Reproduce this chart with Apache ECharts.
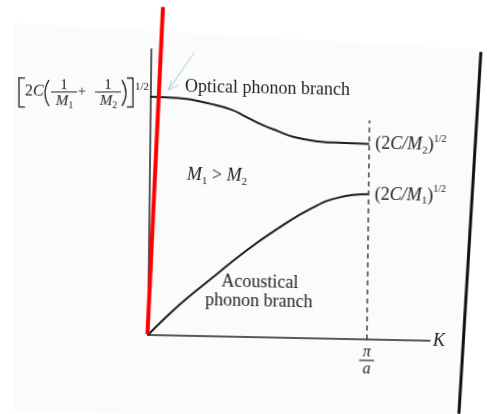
<!DOCTYPE html>
<html>
<head>
<meta charset="utf-8">
<script src="https://cdn.jsdelivr.net/npm/echarts@6/dist/echarts.min.js"></script>
<style>
  html, body { margin: 0; padding: 0; background: #fff; overflow: hidden; }
  /* the printed figure sits slightly skewed on the scanned page */
  #chart {
    width: 487px; height: 414px;
    transform-origin: 148px 335px;
    transform: matrix(1, 0.0205, -0.012, 1, 0, 0);
  }
</style>
</head>
<body>
<div id="chart"></div>
<script>
// Diatomic linear lattice, M1 > M2.
// K in units of π/a, ω in units of [2C(1/M1 + 1/M2)]^1/2.
const opticalK  = [0, 0.125, 0.278, 0.370, 0.431, 0.508, 0.584, 0.660, 0.767, 0.889, 1];
const opticalW  = [1.000, 0.997, 0.974, 0.952, 0.926, 0.892, 0.866, 0.842, 0.827, 0.822, 0.820];
const acousticK = [0, 0.077, 0.167, 0.288, 0.438, 0.589, 0.741, 0.861, 1];
const acousticW = [0, 0.072, 0.150, 0.243, 0.358, 0.459, 0.546, 0.592, 0.609];
const zoneEdgeK = 1;              // K = π/a
const zoneEdgeTop = 0.92;         // height of the dashed zone-edge line
const zoneEdgeLabel = ['π', 'a']; // numerator, denominator
const opticalTopW = 1;            // ω at K = 0 on the optical branch

const SERIF = '"Liberation Serif", "DejaVu Serif", serif';
const INK = '#242424';

// skew of the container (see CSS); converts page pixels back to chart pixels
const OX = 148, OY = 335, SA = 0.0205, SC = -0.012;
function toLocal(X, Y) {
  const dx = X - OX, dy = Y - OY, det = 1 - SA * SC;
  return [OX + (dx - SC * dy) / det, OY + (-SA * dx + dy) / det];
}

const chart = echarts.init(document.getElementById('chart'));

// text styles used by every label (rich text keeps the serif face)
const rich = {
  t:  { fontFamily: SERIF, fontSize: 18, color: INK, lineHeight: 22 },
  i:  { fontFamily: SERIF, fontSize: 18, color: INK, lineHeight: 22, fontStyle: 'italic' },
  s:  { fontFamily: SERIF, fontSize: 11, color: INK, lineHeight: 11, verticalAlign: 'bottom' },
  p:  { fontFamily: SERIF, fontSize: 10, color: INK, lineHeight: 15, verticalAlign: 'top' },
  r16: { fontFamily: SERIF, fontSize: 16, color: INK },
  i16: { fontFamily: SERIF, fontSize: 16, color: INK, fontStyle: 'italic' },
  r15: { fontFamily: SERIF, fontSize: 15, color: INK },
  i15: { fontFamily: SERIF, fontSize: 15, color: INK, fontStyle: 'italic', lineHeight: 18 },
  s10: { fontFamily: SERIF, fontSize: 10, color: INK, lineHeight: 12, verticalAlign: 'bottom' },
  r11: { fontFamily: SERIF, fontSize: 11, color: INK }
};

function text(X, Y, str, align) {
  const p = toLocal(X, Y);
  return {
    type: 'text', x: p[0], y: p[1], z: 50, silent: true,
    style: {
      text: str, rich: rich, fill: INK, fontFamily: SERIF, fontSize: 18,
      align: align || 'left', verticalAlign: 'middle'
    }
  };
}
function seg(points, color, width, z) {
  return {
    type: 'polyline', z: z || 50, silent: true,
    shape: { points: points.map(p => toLocal(p[0], p[1])) },
    style: { stroke: color, lineWidth: width, fill: null, lineCap: 'butt', lineJoin: 'miter' }
  };
}
function paren(X0, Y0, CX, CY, X1, Y1) {
  const a = toLocal(X0, Y0), c = toLocal(CX, CY), b = toLocal(X1, Y1);
  return {
    type: 'bezierCurve', z: 50, silent: true,
    shape: { x1: a[0], y1: a[1], cpx1: c[0], cpy1: c[1], x2: b[0], y2: b[1] },
    style: { stroke: INK, lineWidth: 1.3, fill: null }
  };
}

const curveStyle = { color: '#1c1c1c', width: 2 };

const option = {
  animation: false,
  backgroundColor: 'transparent',
  grid: { left: 148, top: 49, right: 57, bottom: 79 },
  xAxis: {
    type: 'value', min: 0, max: 1.288, interval: zoneEdgeK,
    axisLine: { show: true, lineStyle: { color: INK, width: 1.5 } },
    axisTick: { show: false },
    splitLine: { show: false },
    name: 'K', nameLocation: 'end', nameGap: 3,
    nameTextStyle: { fontFamily: SERIF, fontStyle: 'italic', fontSize: 18, color: INK, verticalAlign: 'middle', padding: [2, 0, 0, 0] },
    axisLabel: {
      margin: 6,
      formatter: v => Math.abs(v - zoneEdgeK) < 1e-6
        ? '{n|' + zoneEdgeLabel[0] + '}\n{bar|}\n{d|' + zoneEdgeLabel[1] + '}' : '',
      rich: {
        n: { fontFamily: SERIF, fontSize: 16, fontStyle: 'italic', color: INK, lineHeight: 14, align: 'center' },
        bar: { width: 15, height: 1.2, lineHeight: 2, backgroundColor: INK, align: 'center' },
        d: { fontFamily: SERIF, fontSize: 16, fontStyle: 'italic', color: INK, lineHeight: 15, align: 'center' }
      }
    }
  },
  yAxis: {
    type: 'value', min: 0, max: 1.2,
    axisLine: { show: true, lineStyle: { color: INK, width: 1.5 } },
    axisTick: { show: false },
    axisLabel: { show: false },
    splitLine: { show: false }
  },
  series: [
    {
      name: 'Optical', type: 'line', smooth: true, symbol: 'none', z: 5,
      data: opticalK.map((k, j) => [k, opticalW[j]]),
      lineStyle: curveStyle,
      endLabel: { show: true, distance: 6, formatter: '{t|(2}{i|C/M}{s|2}{t|)}{p|1/2}', rich: rich }
    },
    {
      name: 'Acoustical', type: 'line', smooth: true, symbol: 'none', z: 5,
      data: acousticK.map((k, j) => [k, acousticW[j]]),
      lineStyle: curveStyle,
      endLabel: { show: true, distance: 6, formatter: '{t|(2}{i|C/M}{s|1}{t|)}{p|1/2}', rich: rich }
    },
    {
      name: 'Zone edge', type: 'line', symbol: 'none', z: 4,
      data: [[zoneEdgeK, 0], [zoneEdgeK, zoneEdgeTop]],
      lineStyle: { color: INK, width: 1.3, type: [5, 4] }
    },
    {
      name: 'Tick', type: 'line', symbol: 'none', clip: false, z: 4,
      data: [[-0.041, opticalTopW], [0, opticalTopW]],
      lineStyle: { color: INK, width: 1.4 }
    }
  ]
};

chart.setOption(option);

// page tone and its right-hand edge
const pageCorners = [[14, 23], [481, 50], [459, 420], [14, 420]].map(p => toLocal(p[0], p[1]));
const origin = chart.convertToPixel({ gridIndex: 0 }, [0, 0]);
const redTop = toLocal(163, 7);

const g = [
  { type: 'polygon', z: -10, silent: true, shape: { points: pageCorners }, style: { fill: '#fbfbfb', stroke: null } },
  seg([[481, 52], [459, 414]], '#111', 3, 60),

  // ω label: [2C(1/M1 + 1/M2)]^1/2
  seg([[25, 78], [19, 78], [19, 107], [25, 107]], INK, 1.3),
  text(25, 91.5, '{r16|2}{i16|C}'),
  paren(49, 80, 41, 93, 49, 106),
  text(64, 85.5, '{r15|1}', 'center'),
  seg([[51, 92], [77, 92]], INK, 1),
  text(64.5, 101.5, '{i15|M}{s10|1}', 'center'),
  text(82, 92, '{r15|+}', 'center'),
  text(108, 85.5, '{r15|1}', 'center'),
  seg([[95, 92], [121, 92]], INK, 1),
  text(108.5, 101.5, '{i15|M}{s10|2}', 'center'),
  paren(122, 80, 130, 93, 122, 106),
  seg([[127, 78], [133, 78], [133, 107], [127, 107]], INK, 1.3),
  text(135, 87, '{r11|1/2}'),

  // annotations inside the plot
  text(185, 87, '{t|Optical phonon branch}'),
  text(187, 175.5, '{i|M}{s|1}{t| > }{i|M}{s|2}'),
  text(260, 282.5, '{t|Acoustical}', 'center'),
  text(259, 301.5, '{t|phonon branch}', 'center'),

  // pointer arrow and red marker line
  seg([[194, 53], [168.5, 90]], '#a3d0da', 1, 70),
  seg([[171.5, 80.5], [168.5, 90], [178.5, 85]], '#a3d0da', 1, 70),
  {
    type: 'line', z: 80, silent: true,
    shape: { x1: origin[0] - 0.5, y1: origin[1] - 1, x2: redTop[0], y2: redTop[1] },
    style: { stroke: '#ff0000', lineWidth: 4, lineCap: 'butt' }
  }
];

chart.setOption({ graphic: { elements: g } });
</script>
</body>
</html>
